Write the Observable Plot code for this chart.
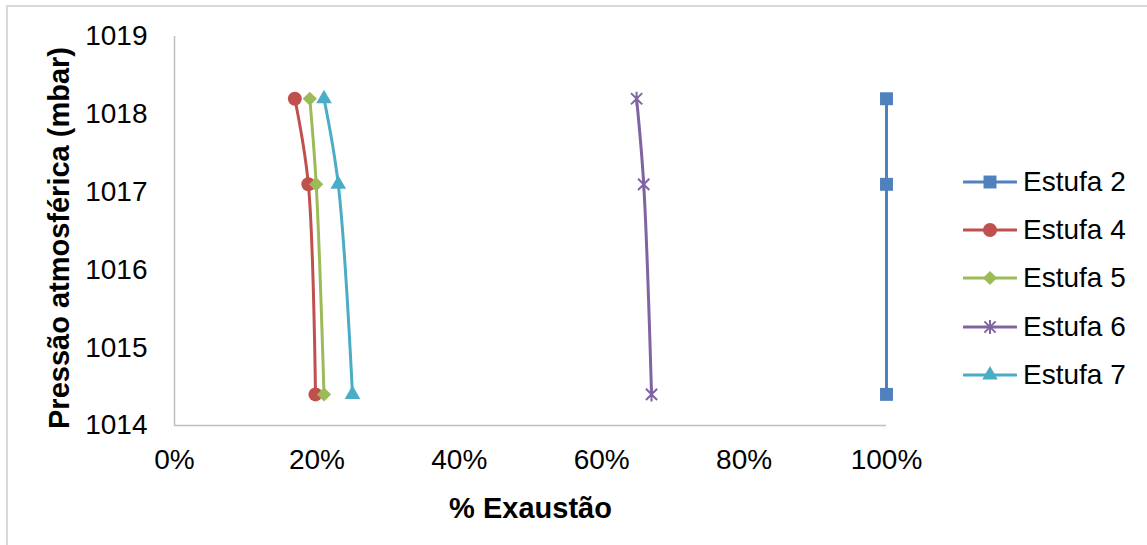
<!DOCTYPE html>
<html>
<head>
<meta charset="utf-8">
<script src="https://cdn.jsdelivr.net/npm/d3@7"></script>
<script src="https://cdn.jsdelivr.net/npm/@observablehq/plot@0.6"></script>
<style>
  html, body { margin: 0; padding: 0; background: #fff; }
  #chart { position: relative; width: 1147px; height: 545px; overflow: hidden;
           font-family: "Liberation Sans", Arial, sans-serif; }
  #chart > svg { position: absolute; left: 0; top: 0; }
  #frame { position: absolute; left: 6px; top: 5px; right: -4px; bottom: -4px;
           border-top: 2px solid #d9d9d9; border-left: 2px solid #d9d9d9; }
  #legend { position: absolute; left: 963px; top: 0; }
  .item { position: absolute; left: 0; height: 40px; display: flex; align-items: center;
          white-space: nowrap; font-size: 28px; color: #000; }
  .item svg { display: block; margin-right: 6px; }
</style>
</head>
<body>
<div id="chart"><div id="frame"></div></div>
<script>
// Atmospheric pressure (mbar) at each reading
const pressures = [1018.2, 1017.1, 1014.4];

// Series names and exhaustion fraction at each pressure
const seriesNames = ["Estufa 2", "Estufa 4", "Estufa 5", "Estufa 6", "Estufa 7"];
const estufa2 = [1.00, 1.00, 1.00];
const estufa4 = [0.169, 0.188, 0.198];
const estufa5 = [0.190, 0.199, 0.210];
const estufa6 = [0.649, 0.659, 0.670];
const estufa7 = [0.210, 0.230, 0.250];
const seriesValues = [estufa2, estufa4, estufa5, estufa6, estufa7];

// Axis ticks and titles
const xTicks = [0, 0.2, 0.4, 0.6, 0.8, 1.0];
const yTicks = [1014, 1015, 1016, 1017, 1018, 1019];
const xTitle = "% Exaustão";
const yTitle = "Pressão atmosférica (mbar)";

// Styling per series
const colors = ["#4F81BD", "#C0504D", "#9BBB59", "#8064A2", "#4BACC6"];

// Six-armed star marker: vertical bar plus a diagonal cross
const asterisk = {
  draw(ctx, size) {
    const r = Math.sqrt(size / Math.PI);
    const k = r * 0.8;
    ctx.moveTo(0, -r); ctx.lineTo(0, r);
    ctx.moveTo(-k, -k); ctx.lineTo(k, k);
    ctx.moveTo(-k, k); ctx.lineTo(k, -k);
  }
};
const markers = [
  {symbol: d3.symbolSquare, r: 7.3, filled: true},
  {symbol: d3.symbolCircle, r: 7, filled: true},
  {symbol: d3.symbolDiamond2, r: 6.4, filled: true},
  {symbol: asterisk, r: 7, filled: false},
  {symbol: d3.symbolTriangle, r: 5.8, filled: true}
];

const series = seriesNames.map((name, s) => ({
  name,
  color: colors[s],
  marker: markers[s],
  rows: pressures.map((p, i) => ({pressure: p, exhaust: seriesValues[s][i]}))
}));

const font = '"Liberation Sans", Arial, sans-serif';
const axisColor = "#bfbfbf";

const marks = [
  Plot.ruleX([0], {stroke: axisColor, strokeWidth: 1.5}),
  Plot.ruleY([1014], {stroke: axisColor, strokeWidth: 1.5}),
  Plot.axisY({ticks: yTicks, tickSize: 0, tickPadding: 27, tickFormat: d => String(d), label: null}),
  Plot.axisX({ticks: xTicks, tickSize: 0, tickPadding: 24, tickFormat: d3.format(".0%"), label: null}),
  Plot.text([xTitle], {frameAnchor: "bottom", textAnchor: "middle", lineAnchor: "middle",
    dy: 83, fontWeight: "bold", fontSize: 29}),
  Plot.text([yTitle], {frameAnchor: "left", textAnchor: "middle", lineAnchor: "middle",
    rotate: -90, dx: -115, dy: 7, fontWeight: "bold", fontSize: 29})
];

for (const s of series) {
  marks.push(Plot.line(s.rows, {
    x: "exhaust", y: "pressure", stroke: s.color, strokeWidth: 3, curve: "catmull-rom"
  }));
  marks.push(Plot.dot(s.rows, {
    x: "exhaust", y: "pressure", symbol: s.marker.symbol, r: s.marker.r,
    fill: s.marker.filled ? s.color : "none",
    stroke: s.marker.filled ? "none" : s.color,
    strokeWidth: s.marker.filled ? 0 : 2
  }));
}

const plot = Plot.plot({
  width: 1147,
  height: 545,
  marginLeft: 174,
  marginRight: 261,
  marginTop: 36,
  marginBottom: 120,
  style: {fontFamily: font, fontSize: "28px", color: "#000", background: "transparent"},
  x: {domain: [0, 1]},
  y: {domain: [1014, 1019]},
  marks
});
document.getElementById("chart").appendChild(plot);

// Legend to the right of the plot area
const legend = d3.select("#chart").append("div").attr("id", "legend");
series.forEach((s, i) => {
  const item = legend.append("div").attr("class", "item").style("top", `${162 + i * 48.2}px`);
  const svg = item.append("svg").attr("width", 54).attr("height", 24);
  svg.append("line").attr("x1", 1).attr("x2", 53).attr("y1", 12).attr("y2", 12)
    .attr("stroke", s.color).attr("stroke-width", 3).attr("stroke-linecap", "round");
  svg.append("path")
    .attr("transform", "translate(27,12)")
    .attr("d", d3.symbol().type(s.marker.symbol).size(Math.PI * s.marker.r * s.marker.r)())
    .attr("fill", s.marker.filled ? s.color : "none")
    .attr("stroke", s.marker.filled ? "none" : s.color)
    .attr("stroke-width", 2);
  item.append("span").text(s.name);
});
</script>
</body>
</html>
